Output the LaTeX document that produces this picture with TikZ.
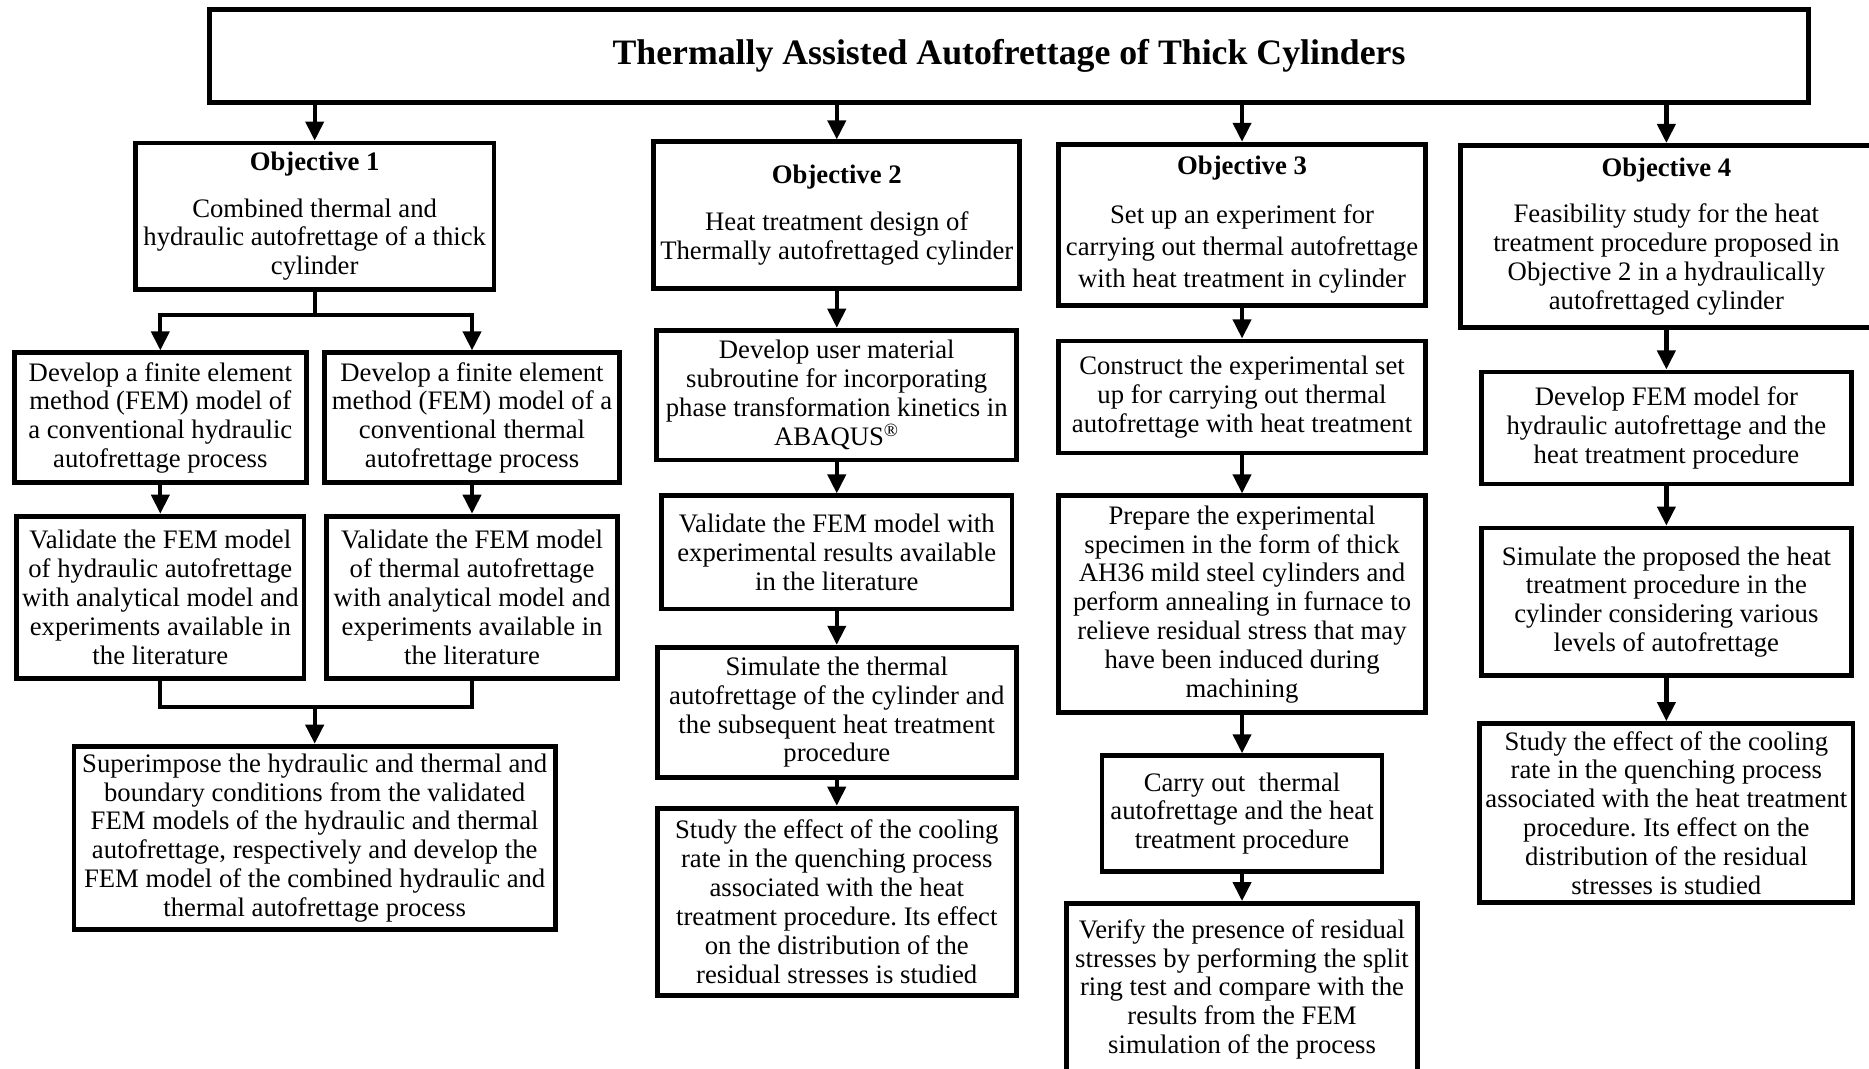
\documentclass[tikz,border=0pt]{standalone}
\usepackage{fontspec}
\setmainfont{Liberation Serif}
\usetikzlibrary{arrows.meta}
\frenchspacing

\newcommand{\objhead}[1]{\textbf{Objective #1}\\[7.4pt]}

\begin{document}
\begin{tikzpicture}[x=0.5pt, y=-0.5pt,
	box/.style={draw, line width=2pt, align=center, inner xsep=1pt, inner ysep=1pt,
		font=\fontsize{11.2}{12.1}\selectfont},
	arr/.style={line width=1.8pt, -{Triangle[length=8pt,width=7.5pt]}},
	link/.style={line width=1.8pt}]

	\clip (0,0) rectangle (1568,896);

	\node[box, minimum width=670.5pt, minimum height=39pt, font=\fontsize{15}{18}\selectfont\bfseries] (title) at (846.5,47) {Thermally Assisted Autofrettage of Thick Cylinders};

	% objectives
	\node[box, minimum width=150.5pt, minimum height=61.5pt] (obj1) at (264,181.5) {\objhead{1}Combined thermal and\\hydraulic autofrettage of a thick\\cylinder};
	\node[box, minimum width=153.5pt, minimum height=61.5pt] (obj2) at (702,180.5) {\objhead{2}Heat treatment design of\\Thermally autofrettaged cylinder};
	\node[box, minimum width=154pt, minimum height=67.5pt, font=\fontsize{11.2}{13.4}\selectfont] (obj3) at (1042,188.5) {\objhead{3}Set up an experiment for\\carrying out thermal autofrettage\\with heat treatment in cylinder};
	\node[box, minimum width=173pt, minimum height=76.5pt] (obj4) at (1398,198.5) {\objhead{4}Feasibility study for the heat\\treatment procedure proposed in\\Objective 2 in a hydraulically\\autofrettaged cylinder};

	\foreach \o in {obj1,obj2,obj3,obj4}
		\draw[arr] (title.south -| \o.north) -- (\o.north);

	% Objective 1
	\node[box, minimum width=122.5pt, minimum height=54.5pt] (hydfem) at (134.5,350.5) {Develop a finite element\\method (FEM) model of\\a conventional hydraulic\\autofrettage process};
	\node[box, minimum width=124pt, minimum height=54.5pt] (thfem) at (396,350.5) {Develop a finite element\\method (FEM) model of a\\conventional thermal\\autofrettage process};
	\node[box, minimum width=120.5pt, minimum height=68pt] (hydval) at (134.5,501) {Validate the FEM model\\of hydraulic autofrettage\\with analytical model and\\experiments available in\\the literature};
	\node[box, minimum width=122pt, minimum height=68pt] (thval) at (396,501) {Validate the FEM model\\of thermal autofrettage\\with analytical model and\\experiments available in\\the literature};
	\node[box, minimum width=202pt, minimum height=77pt] (combfem) at (264,703) {Superimpose the hydraulic and thermal and\\boundary conditions from the validated\\FEM models of the hydraulic and thermal\\autofrettage, respectively and develop the\\FEM model of the combined hydraulic and\\thermal autofrettage process};

	\coordinate (split1) at (264,264);
	\coordinate (merge1) at (264,593);
	\draw[link] (obj1.south) -- (split1);
	\draw[arr] (split1) -| (hydfem.north);
	\draw[arr] (split1) -| (thfem.north);
	\draw[arr] (hydfem) -- (hydval);
	\draw[arr] (thfem) -- (thval);
	\draw[link] (hydval.south) |- (merge1);
	\draw[link] (thval.south) |- (merge1);
	\draw[arr] (merge1) -- (combfem.north);

	% Objective 2
	\node[box, minimum width=151pt, minimum height=54.5pt] (umat) at (702,331.5) {Develop user material\\subroutine for incorporating\\phase transformation kinetics in\\ABAQUS\textsuperscript{\textregistered}};
	\node[box, minimum width=147pt, minimum height=47.5pt] (umatval) at (702,463.5) {Validate the FEM model with\\experimental results available\\in the literature};
	\node[box, minimum width=150.5pt, minimum height=54.5pt] (thsim) at (702,597.5) {Simulate the thermal\\autofrettage of the cylinder and\\the subsequent heat treatment\\procedure};
	\node[box, minimum width=150.5pt, minimum height=78.5pt] (coolth) at (702,756.5) {Study the effect of the cooling\\rate in the quenching process\\associated with the heat\\treatment procedure. Its effect\\on the distribution of the\\residual stresses is studied};

	\draw[arr] (obj2) -- (umat);
	\draw[arr] (umat) -- (umatval);
	\draw[arr] (umatval) -- (thsim);
	\draw[arr] (thsim) -- (coolth);

	% Objective 3
	\node[box, minimum width=154pt, minimum height=47pt] (setup) at (1042,333) {Construct the experimental set\\up for carrying out thermal\\autofrettage with heat treatment};
	\node[box, minimum width=154pt, minimum height=91pt] (specimen) at (1042,507) {Prepare the experimental\\specimen in the form of thick\\AH36 mild steel cylinders and\\perform annealing in furnace to\\relieve residual stress that may\\have been induced during\\machining};
	\node[box, minimum width=117.5pt, minimum height=48.5pt] (expt) at (1042,682.5) {Carry out~ thermal\\autofrettage and the heat\\treatment procedure};
	\node[box, minimum width=147pt, minimum height=72pt] (splitring) at (1042,830) {Verify the presence of residual\\stresses by performing the split\\ring test and compare with the\\results from the FEM\\simulation of the process};

	\draw[arr] (obj3) -- (setup);
	\draw[arr] (setup) -- (specimen);
	\draw[arr] (specimen) -- (expt);
	\draw[arr] (expt) -- (splitring);

	% Objective 4
	\node[box, minimum width=155pt, minimum height=47pt] (hydht) at (1398,359) {Develop FEM model for\\hydraulic autofrettage and the\\heat treatment procedure};
	\node[box, minimum width=155pt, minimum height=62pt] (hydsim) at (1398,505) {Simulate the proposed the heat\\treatment procedure in the\\cylinder considering various\\levels of autofrettage};
	\node[box, minimum width=156.5pt, minimum height=75pt] (coolhyd) at (1398,682) {Study the effect of the cooling\\rate in the quenching process\\associated with the heat treatment\\procedure. Its effect on the\\distribution of the residual\\stresses is studied};

	\draw[arr] (obj4) -- (hydht);
	\draw[arr] (hydht) -- (hydsim);
	\draw[arr] (hydsim) -- (coolhyd);

\end{tikzpicture}
\end{document}
